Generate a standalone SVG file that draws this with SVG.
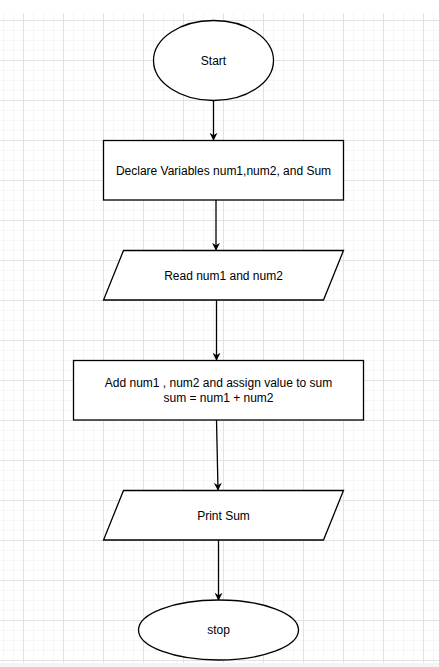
<svg xmlns="http://www.w3.org/2000/svg" width="439" height="667" viewBox="0 0 439 667">
  <defs>
    <pattern id="minor" width="10" height="10" patternUnits="userSpaceOnUse" x="3" y="0">
      <path d="M0.5 0V10M0 0.5H10" fill="none" stroke="#f6f6f6" stroke-width="1"/>
    </pattern>
    <pattern id="major" width="40" height="40" patternUnits="userSpaceOnUse" x="23" y="20">
      <path d="M0.5 0V40M0 0.5H40" fill="none" stroke="#e2e2e2" stroke-width="1"/>
    </pattern>
    <marker id="arrow" viewBox="0 0 10 10" refX="9" refY="5" markerWidth="8" markerHeight="8" markerUnits="userSpaceOnUse" orient="auto">
      <path d="M0 0L10 5L0 10L3 5Z" fill="#000"/>
    </marker>
  </defs>
  <style>
    .shape { fill: #fff; stroke: #000; stroke-width: 1.3; }
    .edge { fill: none; stroke: #000; stroke-width: 1.3; marker-end: url(#arrow); }
    text { font-family: "Liberation Sans", Arial, sans-serif; font-size: 12px; fill: #000; text-anchor: middle; }
  </style>
  <rect x="0" y="0" width="439" height="667" fill="#fff"/>
  <rect x="0" y="663" width="439" height="4" fill="#f4f4f4"/>
  <rect x="0" y="13" width="439" height="650" fill="url(#minor)"/>
  <rect x="0" y="13" width="439" height="650" fill="url(#major)"/>

  <g id="connectors">
    <path class="edge" d="M213.5 100V140"/>
    <path class="edge" d="M216 200V250"/>
    <path class="edge" d="M216.5 300V360"/>
    <path class="edge" d="M216.5 420L218 490"/>
    <path class="edge" d="M218.5 540V600"/>
  </g>

  <g id="start">
    <ellipse class="shape" cx="213.5" cy="60.5" rx="60" ry="40"/>
    <text x="213.5" y="64.5">Start</text>
  </g>
  <g id="declare">
    <rect class="shape" x="103.5" y="140.5" width="240" height="59.5"/>
    <text x="223.5" y="174.5">Declare Variables num1,num2, and Sum</text>
  </g>
  <g id="read">
    <path class="shape" d="M123.5 250.5H343.5L323.5 300H103.5Z"/>
    <text x="223.5" y="279.5">Read num1 and num2</text>
  </g>
  <g id="add">
    <rect class="shape" x="73.5" y="360.5" width="290" height="59.5"/>
    <text x="218.5" y="387">Add num1 , num2 and assign value to sum</text>
    <text x="218.5" y="401.5">sum = num1 + num2</text>
  </g>
  <g id="print">
    <path class="shape" d="M123.5 490.5H343.5L323.5 540H103.5Z"/>
    <text x="223.5" y="519.5">Print Sum</text>
  </g>
  <g id="stop">
    <ellipse class="shape" cx="218.5" cy="630" rx="80" ry="30"/>
    <text x="218.5" y="634">stop</text>
  </g>
</svg>
